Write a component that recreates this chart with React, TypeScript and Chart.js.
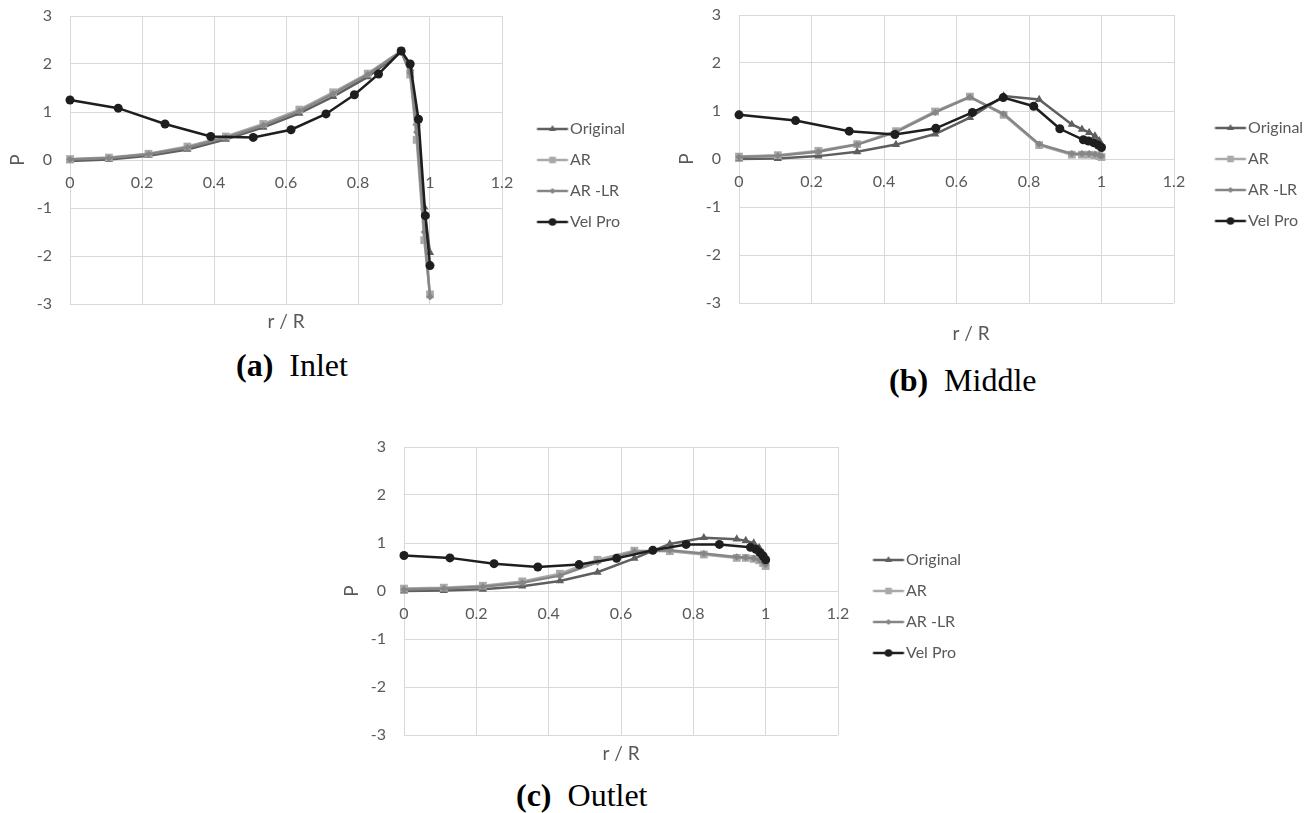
import React, { useEffect, useRef } from 'react';
import { Chart, registerables } from 'chart.js';

Chart.register(...registerables);

// ---------- labels & axis ranges ----------
const seriesLabels = ['Original', 'AR', 'AR -LR', 'Vel Pro'];
const xAxisLabel = 'r / R';
const yAxisLabel = 'P';
const xMin = 0;
const xMax = 1.2;
const xStep = 0.2;
const yMin = -3;
const yMax = 3;
const yStep = 1;

// ---------- (a) Inlet ----------
const inletRadiusCFD = [0, 0.108, 0.218, 0.326, 0.433, 0.537, 0.637, 0.731, 0.827, 0.92, 0.945, 0.963, 0.984, 1.0];
const inletOriginal = [-0.02, 0.01, 0.09, 0.22, 0.43, 0.68, 0.97, 1.32, 1.73, 2.25, 1.9, 0.77, -0.98, -1.93];
const inletAR = [0.02, 0.05, 0.13, 0.28, 0.49, 0.75, 1.05, 1.41, 1.8, 2.27, 1.78, 0.42, -1.67, -2.8];
const inletARLR = [0.01, 0.04, 0.12, 0.26, 0.47, 0.72, 1.02, 1.38, 1.78, 2.26, 1.82, 0.58, -1.5, -2.85];
const inletRadiusVel = [0, 0.134, 0.264, 0.391, 0.509, 0.614, 0.711, 0.79, 0.857, 0.92, 0.945, 0.968, 0.987, 1.0];
const inletVelPro = [1.25, 1.08, 0.75, 0.49, 0.47, 0.63, 0.96, 1.36, 1.79, 2.27, 2.0, 0.85, -1.16, -2.2];

// ---------- (b) Middle ----------
const middleRadiusCFD = [0, 0.107, 0.219, 0.326, 0.433, 0.541, 0.637, 0.73, 0.828, 0.918, 0.946, 0.966, 0.982, 0.994, 1.0];
const middleOriginal = [0, 0.01, 0.06, 0.15, 0.3, 0.52, 0.86, 1.31, 1.24, 0.72, 0.62, 0.55, 0.48, 0.38, 0.3];
const middleAR = [0.05, 0.08, 0.17, 0.31, 0.58, 0.99, 1.3, 0.92, 0.29, 0.09, 0.09, 0.09, 0.08, 0.06, 0.04];
const middleARLR = [0.04, 0.07, 0.15, 0.3, 0.56, 0.97, 1.29, 0.94, 0.31, 0.11, 0.11, 0.11, 0.1, 0.08, 0.06];
const middleRadiusVel = [0, 0.156, 0.304, 0.43, 0.543, 0.644, 0.729, 0.813, 0.885, 0.95, 0.964, 0.978, 0.991, 1.0];
const middleVelPro = [0.92, 0.8, 0.58, 0.51, 0.64, 0.97, 1.28, 1.1, 0.63, 0.4, 0.375, 0.34, 0.29, 0.24];

// ---------- (c) Outlet ----------
const outletRadiusCFD = [0, 0.11, 0.218, 0.327, 0.431, 0.535, 0.637, 0.735, 0.829, 0.92, 0.945, 0.967, 0.982, 0.993, 1.0];
const outletOriginal = [0, 0.01, 0.035, 0.1, 0.21, 0.39, 0.68, 0.98, 1.11, 1.08, 1.05, 1.0, 0.9, 0.78, 0.66];
const outletAR = [0.05, 0.07, 0.11, 0.2, 0.36, 0.65, 0.84, 0.83, 0.76, 0.69, 0.69, 0.67, 0.64, 0.58, 0.52];
const outletARLR = [0.03, 0.05, 0.09, 0.17, 0.32, 0.6, 0.82, 0.85, 0.78, 0.71, 0.7, 0.68, 0.65, 0.6, 0.55];
const outletRadiusVel = [0, 0.127, 0.249, 0.37, 0.484, 0.588, 0.688, 0.78, 0.872, 0.958, 0.973, 0.984, 0.993, 1.0];
const outletVelPro = [0.74, 0.69, 0.57, 0.5, 0.55, 0.68, 0.85, 0.97, 0.97, 0.91, 0.87, 0.8, 0.73, 0.65];

// ---------- styles ----------
const TEXT_COLOR = '#595959';
const GRID_COLOR = '#d9d9d9';
const FONT = 'Lato';
const SERIES_STYLES = [
  { color: '#5f5f5f', pointStyle: 'triangle', radius: 4.8, order: 3 },
  { color: '#a9a9a9', pointStyle: 'rect', radius: 5.5, order: 2 },
  { color: '#868686', pointStyle: 'rectRot', radius: 3.6, order: 1 },
  { color: '#1e1e1e', pointStyle: 'circle', radius: 4.5, order: 0 },
];

type Series = { xs: number[]; ys: number[] };
type PanelSpec = {
  series: Series[];
  L: number; T: number; R: number; B: number;
  titleCY: number; titleText: string;
  legendGap: number; legendFirstY: number;
};

const Y_AXIS_W = 70;
const PAD_TOP = 32;
const PAD_RIGHT_MIN = 10;
const TICK_FONT = 16;
const TITLE_FONT = 19;
const LEGEND_FONT = 16;
const LEGEND_SPACING = 31;
const LEGEND_PAD = LEGEND_SPACING - LEGEND_FONT;
const LEGEND_LINE = 31;

const panels: PanelSpec[] = [
  {
    series: [
      { xs: inletRadiusCFD, ys: inletOriginal },
      { xs: inletRadiusCFD, ys: inletAR },
      { xs: inletRadiusCFD, ys: inletARLR },
      { xs: inletRadiusVel, ys: inletVelPro },
    ],
    L: 70, T: 16, R: 502, B: 304, titleCY: 322, titleText: xAxisLabel, legendGap: 35, legendFirstY: 129,
  },
  {
    series: [
      { xs: middleRadiusCFD, ys: middleOriginal },
      { xs: middleRadiusCFD, ys: middleAR },
      { xs: middleRadiusCFD, ys: middleARLR },
      { xs: middleRadiusVel, ys: middleVelPro },
    ],
    L: 739, T: 15, R: 1174, B: 303, titleCY: 334, titleText: '      ' + xAxisLabel, legendGap: 41, legendFirstY: 128,
  },
  {
    series: [
      { xs: outletRadiusCFD, ys: outletOriginal },
      { xs: outletRadiusCFD, ys: outletAR },
      { xs: outletRadiusCFD, ys: outletARLR },
      { xs: outletRadiusVel, ys: outletVelPro },
    ],
    L: 404, T: 447, R: 838, B: 735, titleCY: 754, titleText: xAxisLabel, legendGap: 35, legendFirstY: 560,
  },
];

let measureCtx: CanvasRenderingContext2D | null = null;
function textWidth(text: string, font: string) {
  if (!measureCtx) measureCtx = document.createElement('canvas').getContext('2d');
  measureCtx!.font = font;
  return measureCtx!.measureText(text).width;
}

function geometry(spec: PanelSpec) {
  const plotW = spec.R - spec.L;
  const plotH = spec.B - spec.T;
  const titlePadTop = spec.titleCY - spec.B - TITLE_FONT / 2;
  const titlePadBottom = 2;
  const boxWidth = spec.legendGap + LEGEND_LINE + 2 - LEGEND_PAD - LEGEND_FONT / 2;
  const maxText = Math.max(...seriesLabels.map((s) => textWidth(s, `${LEGEND_FONT}px ${FONT}`)));
  const legendW = LEGEND_PAD + boxWidth + LEGEND_FONT / 2 + maxText + 10;
  const cw = Math.ceil(Y_AXIS_W + plotW + legendW + PAD_RIGHT_MIN);
  const padRight = cw - Y_AXIS_W - plotW - legendW;
  const ch = Math.round(PAD_TOP + plotH + TITLE_FONT + titlePadTop + titlePadBottom + 2);
  const padBottom = ch - PAD_TOP - plotH - TITLE_FONT - titlePadTop - titlePadBottom;
  return { cl: spec.L - Y_AXIS_W, ct: spec.T - PAD_TOP, cw, ch, titlePadTop, titlePadBottom, boxWidth, padRight, padBottom };
}

function drawMarker(ctx: CanvasRenderingContext2D, style: string, x: number, y: number, r: number) {
  ctx.beginPath();
  if (style === 'triangle') {
    for (let i = 0; i < 3; i++) {
      const a = (i * 2 * Math.PI) / 3;
      const px = x + Math.sin(a) * r;
      const py = y - Math.cos(a) * r;
      if (i === 0) ctx.moveTo(px, py); else ctx.lineTo(px, py);
    }
    ctx.closePath();
  } else if (style === 'rect') {
    const s = r * Math.SQRT1_2;
    ctx.rect(x - s, y - s, 2 * s, 2 * s);
  } else if (style === 'rectRot') {
    ctx.moveTo(x, y - r);
    ctx.lineTo(x + r, y);
    ctx.lineTo(x, y + r);
    ctx.lineTo(x - r, y);
    ctx.closePath();
  } else {
    ctx.arc(x, y, r, 0, Math.PI * 2);
  }
  ctx.fill();
}

function makeIcon(idx: number, spec: PanelSpec, boxWidth: number) {
  const st = SERIES_STYLES[idx];
  const legendX = spec.R + LEGEND_PAD;
  const centerX = legendX + boxWidth / 2;
  const lineStart = spec.R + spec.legendGap;
  const lineEnd = lineStart + LEGEND_LINE;
  const halfW = Math.ceil(Math.max(centerX - lineStart, lineEnd - centerX) + 6);
  const c = document.createElement('canvas');
  c.width = halfW * 2;
  c.height = 16;
  const ctx = c.getContext('2d')!;
  const left = centerX - halfW;
  ctx.strokeStyle = st.color;
  ctx.fillStyle = st.color;
  ctx.lineWidth = 2.5;
  ctx.beginPath();
  ctx.moveTo(lineStart - left, 8);
  ctx.lineTo(lineEnd - left, 8);
  ctx.stroke();
  drawMarker(ctx, st.pointStyle, (lineStart + lineEnd) / 2 - left, 8, st.radius * 0.85);
  return c;
}

function fmtX(v: number) {
  const n = Number(v);
  if (Math.abs(n - Math.round(n)) < 1e-9) return String(Math.round(n));
  return n.toFixed(1);
}

function ChartPanel({ spec }: { spec: PanelSpec }) {
  const ref = useRef<HTMLCanvasElement>(null);
  const g = geometry(spec);
  useEffect(() => {
    const icons = SERIES_STYLES.map((_, i) => makeIcon(i, spec, g.boxWidth));
    const legendTitleH = spec.legendFirstY - spec.T - LEGEND_PAD - LEGEND_FONT / 2;
    const datasets = spec.series.map((s, i) => {
      const st = SERIES_STYLES[i];
      return {
        label: seriesLabels[i],
        data: s.xs.map((x, k) => ({ x, y: s.ys[k] })),
        borderColor: st.color,
        backgroundColor: st.color,
        pointBackgroundColor: st.color,
        pointBorderColor: st.color,
        pointBorderWidth: 0,
        borderWidth: 2.5,
        pointStyle: st.pointStyle,
        pointRadius: st.radius,
        tension: 0,
        clip: false,
        order: st.order,
      };
    });
    const chart = new Chart(ref.current!, {
      type: 'line',
      data: { datasets } as any,
      options: {
        responsive: false,
        animation: false,
        events: [],
        layout: { padding: { left: 0, top: PAD_TOP, right: g.padRight, bottom: g.padBottom } },
        scales: {
          x: {
            type: 'linear',
            position: { y: 0 } as any,
            min: xMin,
            max: xMax,
            grid: { color: GRID_COLOR, lineWidth: 1, drawTicks: false },
            border: { color: GRID_COLOR, width: 1 },
            ticks: {
              stepSize: xStep,
              autoSkip: false,
              maxRotation: 0,
              padding: 13,
              color: TEXT_COLOR,
              font: { family: FONT, size: TICK_FONT },
              callback: (v: any) => fmtX(v),
            },
          },
          y: {
            type: 'linear',
            position: 'left',
            min: yMin,
            max: yMax,
            grid: { color: GRID_COLOR, lineWidth: 1, drawTicks: false },
            border: { display: false },
            ticks: {
              stepSize: yStep,
              padding: 18,
              color: TEXT_COLOR,
              font: { family: FONT, size: TICK_FONT },
            },
            title: {
              display: true,
              text: yAxisLabel,
              color: TEXT_COLOR,
              font: { family: FONT, size: TITLE_FONT, lineHeight: 1 },
              padding: { top: 17.5 - TITLE_FONT / 2, bottom: 0 },
            },
            afterFit: (scale: any) => { scale.width = Y_AXIS_W; },
          },
        },
        plugins: {
          tooltip: { enabled: false },
          title: {
            display: true,
            text: spec.titleText,
            position: 'bottom',
            fullSize: false,
            color: TEXT_COLOR,
            font: { family: FONT, size: TITLE_FONT, lineHeight: 1, weight: 'normal' },
            padding: { top: g.titlePadTop, bottom: g.titlePadBottom },
          },
          legend: {
            display: true,
            position: 'right',
            align: 'start',
            fullSize: false,
            title: {
              display: true,
              text: ' ',
              font: { size: 10, lineHeight: 1 },
              padding: { top: legendTitleH - 10, bottom: 0 },
            },
            labels: {
              usePointStyle: true,
              pointStyleWidth: g.boxWidth,
              boxHeight: LEGEND_FONT,
              padding: LEGEND_PAD,
              color: TEXT_COLOR,
              font: { family: FONT, size: LEGEND_FONT },
              sort: (a: any, b: any) => a.datasetIndex - b.datasetIndex,
              generateLabels: (ch: any) => {
                const items = (Chart.defaults.plugins.legend.labels as any).generateLabels(ch);
                return items.map((it: any) => ({ ...it, pointStyle: icons[it.datasetIndex], lineWidth: 0 }));
              },
            },
          },
        },
      } as any,
    });
    return () => chart.destroy();
  }, []);
  return (
    <canvas
      ref={ref}
      width={g.cw}
      height={g.ch}
      style={{ position: 'absolute', left: g.cl, top: g.ct, width: g.cw, height: g.ch, display: 'block' }}
    />
  );
}

const captions = [
  { tag: '(a)', name: 'Inlet', left: 236, baseline: 376 },
  { tag: '(b)', name: 'Middle', left: 889, baseline: 391 },
  { tag: '(c)', name: 'Outlet', left: 516, baseline: 806 },
];

function Caption({ tag, name, left, baseline }: { tag: string; name: string; left: number; baseline: number }) {
  return (
    <div
      style={{
        position: 'absolute',
        left,
        top: baseline - 27,
        fontFamily: '"Liberation Serif", "Times New Roman", serif',
        fontSize: 32,
        lineHeight: '32px',
        color: '#000',
        whiteSpace: 'pre',
      }}
    >
      <b>{tag}</b>
      {'  '}
      {name}
    </div>
  );
}

export default function App() {
  return (
    <div style={{ position: 'absolute', left: 0, top: 0, width: 1311, height: 813, background: '#fff', overflow: 'hidden' }}>
      {panels.map((p, i) => (
        <ChartPanel key={i} spec={p} />
      ))}
      {captions.map((c, i) => (
        <Caption key={i} {...c} />
      ))}
    </div>
  );
}
